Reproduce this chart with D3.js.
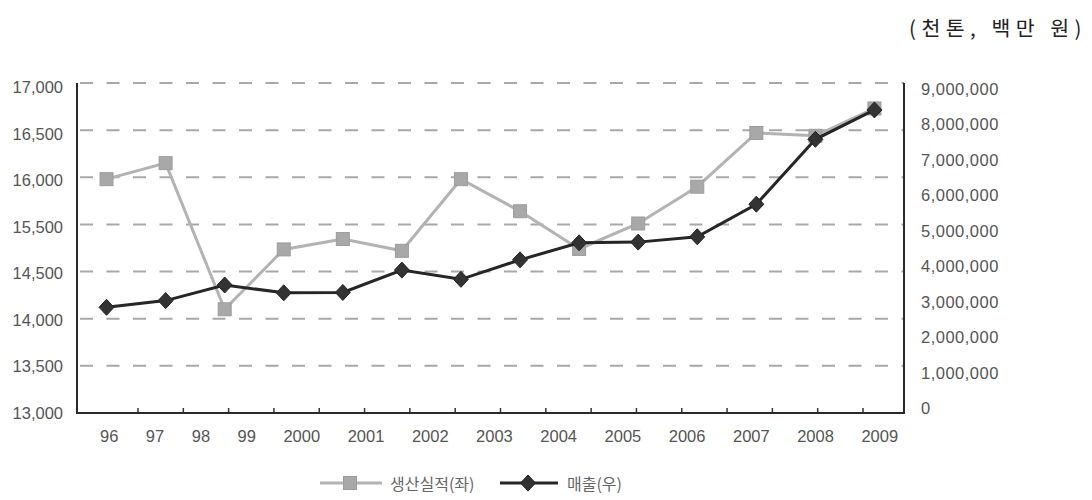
<!DOCTYPE html>
<html><head><meta charset="utf-8">
<script src="https://cdn.jsdelivr.net/npm/d3@7"></script>
<style>body{margin:0;background:#fff}svg{display:block}</style>
</head><body><svg id="c" width="1092" height="500"></svg>
<script>
// ---- data ----
const years = ["96","97","98","99","2000","2001","2002","2003","2004","2005","2006","2007","2008","2009"];
const production = [15980,16150,14100,14970,15190,14940,15980,15640,14980,15510,15900,16470,16440,16730];
const sales = [2840000,3030000,3470000,3250000,3260000,3890000,3630000,4180000,4660000,4680000,4830000,5750000,7580000,8410000];
const leftTickValues = [17000,16500,16000,15500,14500,14000,13500,13000];
const leftTickLabels = ["17,000","16,500","16,000","15,500","14,500","14,000","13,500","13,000"];
const rightTickValues = [0,1000000,2000000,3000000,4000000,5000000,6000000,7000000,8000000,9000000];
const seriesNames = ["생산실적(좌)","매출(우)"];
const unitLabel = "(천톤, 백만 원)";

// ---- layout ----
const L = 77, R = 904, T = 83, B = 413;
const svg = d3.select("#c");
const font = "'Liberation Sans', Arial, Helvetica, sans-serif";
const textCol = "#555";

const x = d3.scalePoint().domain(years).range([L, R]).padding(0.5);
const yL = d3.scaleLinear()
  .domain(leftTickValues)
  .range(leftTickValues.map((d, i) => T + i * (B - T) / (leftTickValues.length - 1)));
const yR = d3.scaleLinear().domain([0, 9000000]).range([B - 5, T + 6]);

// gridlines
svg.append("g").selectAll("line").data(leftTickValues.slice(0, -1)).join("line")
  .attr("x1", L + 3).attr("x2", R).attr("y1", d => yL(d)).attr("y2", d => yL(d))
  .attr("stroke", "#a8a8a8").attr("stroke-width", 2).attr("stroke-dasharray", "13,13.5");

// x-axis inner ticks (evenly spaced small marks)
const tickIdx = d3.range(17);
const xt = d3.scaleLinear().domain([0, 16]).range([138, 863]);
svg.append("g").selectAll("line").data(tickIdx).join("line")
  .attr("x1", d => xt(d)).attr("x2", d => xt(d)).attr("y1", B).attr("y2", B - 5)
  .attr("stroke", "#333").attr("stroke-width", 1.5);

// frame: left, bottom, right axis lines
svg.append("path")
  .attr("d", `M${L},${T}V${B}H${R}V${T}`)
  .attr("fill", "none").attr("stroke", "#2a2a2a").attr("stroke-width", 2);

// left labels
svg.append("g").selectAll("text").data(leftTickValues).join("text")
  .attr("x", 63).attr("y", (d, i) => yL(d) + 4 - i * 0.6)
  .attr("text-anchor", "end").attr("dominant-baseline", "central")
  .attr("font-family", font).attr("font-size", 16.5).attr("fill", textCol)
  .text((d, i) => leftTickLabels[i]);

// right labels
const fmt = d3.format(",");
svg.append("g").selectAll("text").data(rightTickValues).join("text")
  .attr("x", 921).attr("y", d => yR(d))
  .attr("text-anchor", "start").attr("dominant-baseline", "central")
  .attr("font-family", font).attr("font-size", 16.5).attr("letter-spacing", 0.5).attr("fill", textCol)
  .text(d => fmt(d));

// x labels: flowed text with constant gap
const xg = svg.append("g");
let cx = 100;
years.forEach(yr => {
  const t = xg.append("text").attr("x", cx).attr("y", 436)
    .attr("dominant-baseline", "central")
    .attr("font-family", font).attr("font-size", 16.5).attr("fill", textCol).text(yr);
  cx += t.node().getComputedTextLength() + 27.5;
});

// series lines
const lineL = d3.line().x((d, i) => x(years[i])).y(d => yL(d));
const lineR = d3.line().x((d, i) => x(years[i])).y(d => yR(d));
const grayLine = "#b3b3b3", grayFill = "#a8a8a8", dark = "#262626";
const diamond = "M0,-8L7.5,0L0,8L-7.5,0Z";

svg.append("path").attr("d", lineL(production)).attr("fill", "none")
  .attr("stroke", grayLine).attr("stroke-width", 3);
svg.append("g").selectAll("rect").data(production).join("rect")
  .attr("x", (d, i) => x(years[i]) - 6.5).attr("y", d => yL(d) - 6.5)
  .attr("width", 13).attr("height", 13)
  .attr("fill", grayFill).attr("stroke", "#9c9c9c").attr("stroke-width", 1);

svg.append("path").attr("d", lineR(sales)).attr("fill", "none")
  .attr("stroke", dark).attr("stroke-width", 3);
svg.append("g").selectAll("path").data(sales).join("path")
  .attr("transform", (d, i) => `translate(${x(years[i])},${yR(d)})`)
  .attr("d", diamond).attr("fill", "#333").attr("stroke", "#222").attr("stroke-width", 1);

// unit label
svg.append("text").attr("x", 1087).attr("y", 27)
  .attr("text-anchor", "end").attr("dominant-baseline", "central")
  .attr("font-family", "'Noto Sans CJK KR', sans-serif").attr("font-size", 20.5)
  .attr("letter-spacing", 5.5).attr("fill", "#222")
  .text(unitLabel);

// legend
const lg = svg.append("g");
const ly = 483;
lg.append("line").attr("x1", 320).attr("x2", 382).attr("y1", ly).attr("y2", ly)
  .attr("stroke", grayLine).attr("stroke-width", 3);
lg.append("rect").attr("x", 350 - 6.5).attr("y", ly - 6.5).attr("width", 13).attr("height", 13)
  .attr("fill", grayFill).attr("stroke", "#9c9c9c");
lg.append("text").attr("x", 390).attr("y", ly).attr("dominant-baseline", "central")
  .attr("font-family", "'Noto Sans CJK KR', sans-serif").attr("font-size", 16).attr("fill", "#666")
  .text(seriesNames[0]);
lg.append("line").attr("x1", 500).attr("x2", 558).attr("y1", ly).attr("y2", ly)
  .attr("stroke", dark).attr("stroke-width", 3);
lg.append("path").attr("transform", `translate(528,${ly})`).attr("d", diamond)
  .attr("fill", "#333").attr("stroke", "#222");
lg.append("text").attr("x", 567).attr("y", ly).attr("dominant-baseline", "central")
  .attr("font-family", "'Noto Sans CJK KR', sans-serif").attr("font-size", 16).attr("fill", "#666")
  .text(seriesNames[1]);
</script></body></html>
